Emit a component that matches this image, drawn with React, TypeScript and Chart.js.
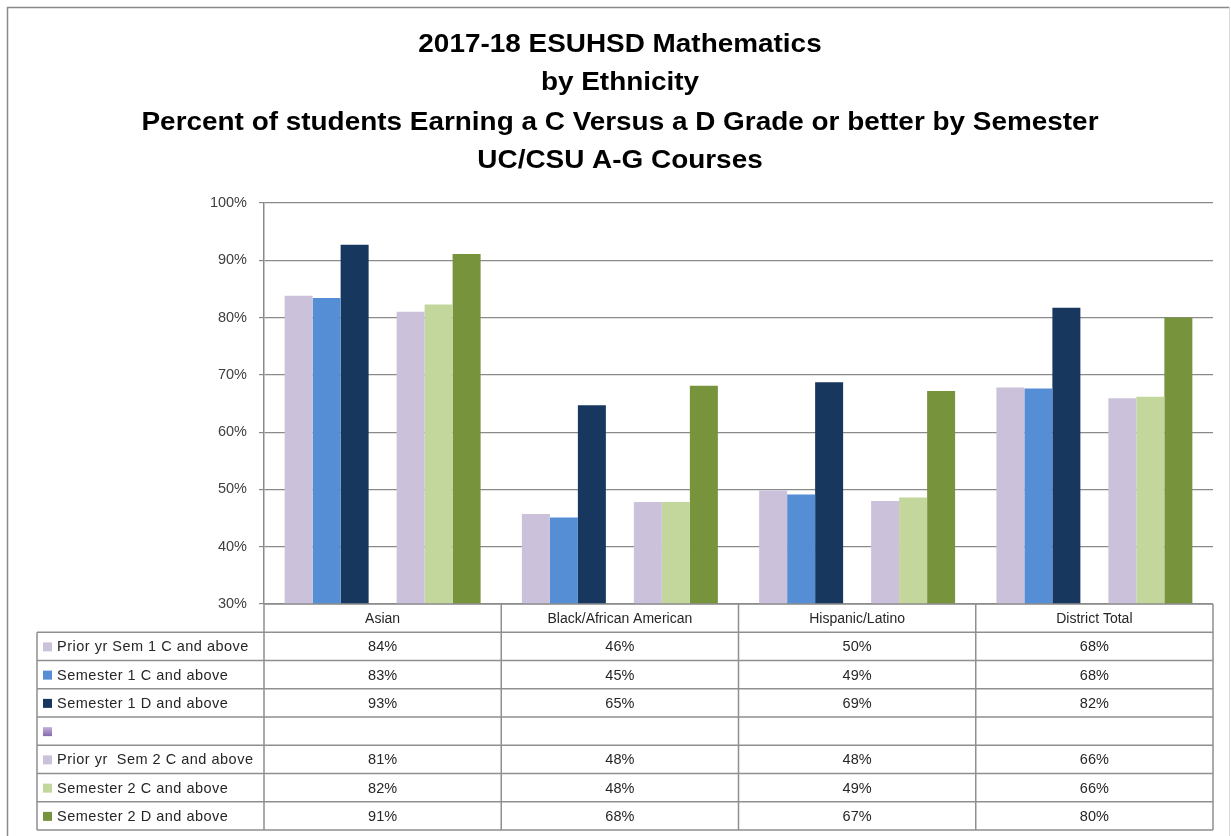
import React, { useEffect, useRef } from 'react';
import { Chart, registerables } from 'chart.js';

Chart.register(...registerables);

const titleLines = [
  '2017-18 ESUHSD Mathematics',
  'by Ethnicity',
  'Percent of students Earning a C Versus a D Grade or better by Semester',
  'UC/CSU A-G Courses',
];
const categories = ['Asian', 'Black/African American', 'Hispanic/Latino', 'District Total'];
const seriesLabels = [
  'Prior yr Sem 1 C and above',
  'Semester 1 C and above',
  'Semester 1 D and above',
  '',
  'Prior yr  Sem 2 C and above',
  'Semester 2 C and above',
  'Semester 2 D and above',
];
const priorSem1C = [83.8, 45.7, 49.8, 67.8];
const sem1C = [83.4, 45.1, 49.1, 67.6];
const sem1D = [92.7, 64.7, 68.7, 81.7];
const spacer: (number | null)[] = [null, null, null, null];
const priorSem2C = [81.0, 47.8, 48.0, 65.9];
const sem2C = [82.3, 47.8, 48.6, 66.2];
const sem2D = [91.1, 68.1, 67.2, 80.0];
const seriesValues = [priorSem1C, sem1C, sem1D, spacer, priorSem2C, sem2C, sem2D];
const seriesColors = ['#CBC1DA', '#558ED5', '#17375E', '#9A80BE', '#CBC1DA', '#C3D69B', '#77933C'];
const yMin = 30;
const yMax = 100;
const yStep = 10;

const FONT = '"Liberation Sans", Arial, sans-serif';

const decorPlugin = {
  id: 'decor',
  beforeDraw(chart: any) {
    const ctx = chart.ctx;
    ctx.save();
    ctx.fillStyle = '#ffffff';
    ctx.fillRect(0, 0, chart.width, chart.height);
    ctx.lineWidth = 1.5;
    ctx.strokeStyle = '#8a8a8a';
    ctx.beginPath();
    ctx.moveTo(7.5, chart.height);
    ctx.lineTo(7.5, 7.5);
    ctx.lineTo(1229.5, 7.5);
    ctx.stroke();
    ctx.strokeStyle = '#d9d9d9';
    ctx.lineWidth = 1;
    ctx.beginPath();
    ctx.moveTo(1229.5, 7.5);
    ctx.lineTo(1229.5, chart.height);
    ctx.stroke();
    ctx.restore();
  },
  afterDraw(chart: any) {
    const ctx = chart.ctx;
    const area = chart.chartArea;
    ctx.save();
    // Title
    ctx.fillStyle = '#000000';
    ctx.font = `bold 25px ${FONT}`;
    ctx.textAlign = 'center';
    ctx.textBaseline = 'alphabetic';
    const sx = 957 / ctx.measureText(titleLines[2]).width;
    const baselines = [52, 90, 130, 168];
    titleLines.forEach((line, i) => {
      ctx.save();
      ctx.translate(620, baselines[i]);
      ctx.scale(sx, 1);
      ctx.fillText(line, 0, 0);
      ctx.restore();
    });

    // Data table
    const rowH = 28.25;
    const top = area.bottom;
    const left = area.left;
    const right = area.right;
    const n = categories.length;
    const colW = (right - left) / n;
    const labelLeft = 37;
    const nRows = seriesLabels.length + 1;
    const bottom = top + nRows * rowH;

    ctx.strokeStyle = '#8f8f8f';
    ctx.lineWidth = 1.5;
    ctx.beginPath();
    ctx.moveTo(left, top);
    ctx.lineTo(right, top);
    for (let r = 1; r <= nRows; r++) {
      const y = top + r * rowH;
      ctx.moveTo(labelLeft, y);
      ctx.lineTo(right, y);
    }
    ctx.moveTo(labelLeft, top + rowH);
    ctx.lineTo(labelLeft, bottom);
    for (let j = 0; j <= n; j++) {
      const x = left + j * colW;
      ctx.moveTo(x, top);
      ctx.lineTo(x, bottom);
    }
    ctx.stroke();

    ctx.fillStyle = '#262626';
    ctx.textBaseline = 'middle';
    ctx.textAlign = 'center';
    ctx.font = `14px ${FONT}`;
    categories.forEach((c, j) => {
      ctx.fillText(c, left + (j + 0.5) * colW, top + rowH / 2 + 1);
    });

    seriesLabels.forEach((label, i) => {
      const cy = top + (i + 1) * rowH + rowH / 2 + 1;
      if (i === 3) {
        const g = ctx.createLinearGradient(0, cy - 5, 0, cy + 5);
        g.addColorStop(0, '#C2B0DC');
        g.addColorStop(1, '#7E62A6');
        ctx.fillStyle = g;
      } else {
        ctx.fillStyle = seriesColors[i];
      }
      ctx.fillRect(43, cy - 5, 9, 9);
      ctx.fillStyle = '#262626';
      ctx.textAlign = 'left';
      ctx.font = `14.5px ${FONT}`;
      (ctx as any).letterSpacing = '0.5px';
      ctx.fillText(label, 57, cy);
      (ctx as any).letterSpacing = '0px';
      ctx.textAlign = 'center';
      ctx.font = `14.5px ${FONT}`;
      seriesValues[i].forEach((v, j) => {
        if (v === null || v === undefined) return;
        ctx.fillText(`${Math.round(v)}%`, left + (j + 0.5) * colW, cy);
      });
    });
    ctx.restore();
  },
};

export default function App() {
  const canvasRef = useRef<HTMLCanvasElement | null>(null);

  useEffect(() => {
    const canvas = canvasRef.current;
    if (!canvas) return;
    const chart = new Chart(canvas, {
      type: 'bar',
      data: {
        labels: categories,
        datasets: seriesValues.map((vals, i) => ({
          label: seriesLabels[i] || ' ',
          data: vals,
          backgroundColor: seriesColors[i],
          borderWidth: 0,
          categoryPercentage: 0.826,
          barPercentage: 1,
        })),
      },
      options: {
        responsive: false,
        animation: false,
        layout: { padding: { left: 184, right: 18, top: 203, bottom: 232 } },
        plugins: {
          legend: { display: false },
          title: { display: false },
          tooltip: { enabled: false },
        },
        scales: {
          x: {
            display: false,
          },
          y: {
            min: yMin,
            max: yMax,
            afterFit: (scale: any) => {
              scale.width = 80;
            },
            ticks: {
              stepSize: yStep,
              padding: 12,
              color: '#404040',
              font: { family: FONT, size: 14.5 },
              callback: (v: any) => `${v}%`,
            },
            grid: {
              color: '#8a8a8a',
              lineWidth: 1.2,
              tickLength: 5,
            },
            border: { color: '#8a8a8a', width: 1.5 },
          },
        },
      },
      plugins: [decorPlugin],
    });
    return () => chart.destroy();
  }, []);

  return (
    <div style={{ position: 'fixed', left: 0, top: 0, width: 1231, height: 836, overflow: 'hidden', background: '#fff' }}>
      <canvas ref={canvasRef} width={1231} height={836} style={{ display: 'block', width: 1231, height: 836 }} />
    </div>
  );
}
